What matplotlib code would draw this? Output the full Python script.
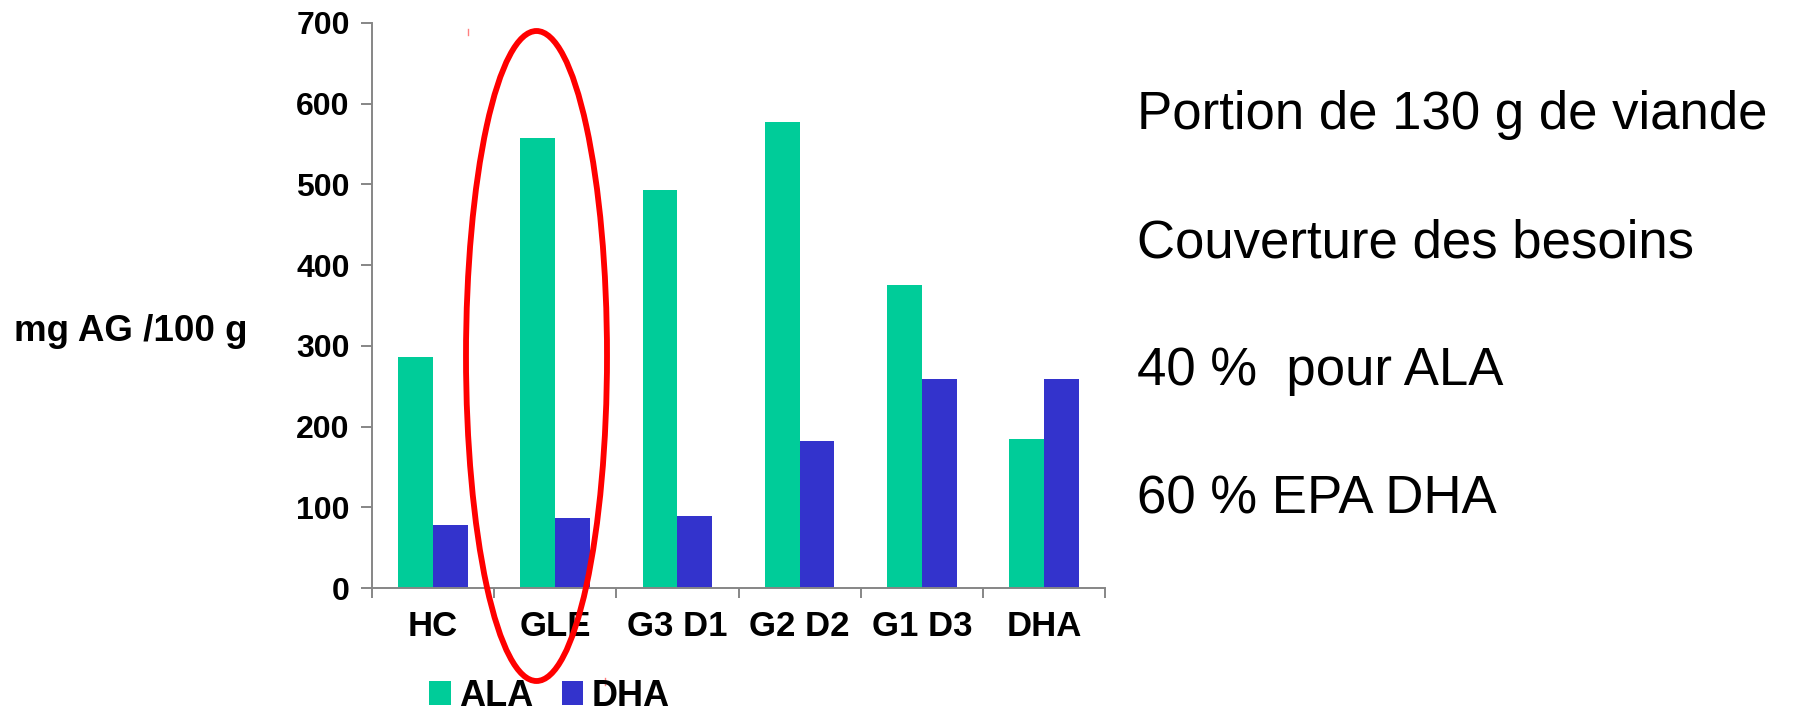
import matplotlib
matplotlib.use("Agg")
import matplotlib.pyplot as plt
import numpy as np
from matplotlib.patches import Ellipse, Patch
from matplotlib.lines import Line2D

# values (mg AG / 100 g)
categories = ["HC", "GLE", "G3 D1", "G2 D2", "G1 D3", "DHA"]
ala = [286, 558, 493, 577, 376, 184]
dha = [78, 87, 89, 182, 259, 259]
yticks = [0, 100, 200, 300, 400, 500, 600, 700]
notes = [
    "Portion de 130 g de viande",
    "Couverture des besoins",
    "40 %  pour ALA",
    "60 % EPA DHA",
]

GREEN = "#00CC99"
BLUE = "#3333CC"
GREY = "#868686"

plt.rcParams["font.family"] = ["Liberation Sans", "DejaVu Sans"]

W, H = 1795, 712
fig = plt.figure(figsize=(W / 100, H / 100), dpi=100)
ax = fig.add_axes([372 / W, 1 - 588 / H, (1105 - 372) / W, (588 - 23) / H])

x = np.arange(len(categories))
bw = 0.285
ax.bar(x - bw / 2, ala, bw, color=GREEN, label="ALA")
ax.bar(x + bw / 2, dha, bw, color=BLUE, label="DHA")

ax.set_xlim(-0.5, len(categories) - 0.5)
ax.set_ylim(0, 700)
ax.set_yticks(yticks)
ax.set_xticks(x)
ax.set_xticklabels(categories)
ax.set_xticks(np.arange(len(categories) + 1) - 0.5, minor=True)

for s in ["top", "right"]:
    ax.spines[s].set_visible(False)
for s in ["left", "bottom"]:
    ax.spines[s].set_color(GREY)
    ax.spines[s].set_linewidth(1.4)

ax.tick_params(axis="y", length=8, width=1.4, color=GREY, pad=8,
               labelsize=23)
ax.tick_params(axis="x", which="major", length=0, pad=16, labelsize=25)
ax.tick_params(axis="x", which="minor", length=7, width=1.4, color=GREY)
for lab in ax.get_xticklabels() + ax.get_yticklabels():
    lab.set_fontweight("bold")

fig.text(14 / W, 1 - 341 / H, "mg AG /100 g", fontsize=26.5,
         fontweight="bold", ha="left", va="baseline")

# notes on the right
for i, t in enumerate(notes):
    fig.text(1137 / W, 1 - (129 + i * 128) / H, t, fontsize=38,
             ha="left", va="baseline")

handles = [Patch(facecolor=GREEN, label="ALA"), Patch(facecolor=BLUE, label="DHA")]
leg = fig.legend(handles=handles, loc="lower left",
                 bbox_to_anchor=(429 / W, -2 / H), ncol=2, frameon=False,
                 prop={"size": 26, "weight": "bold"},
                 handlelength=0.6, handleheight=0.65, handletextpad=0.22,
                 columnspacing=0.8, borderpad=0, borderaxespad=0)

# red highlight around GLE
fig.add_artist(Ellipse((536.5 / W, 1 - 356 / H), 141 / W, 650 / H,
                       transform=fig.transFigure, fill=False,
                       edgecolor="#FF0000", linewidth=4.2))
# stray red marks in the original
fig.add_artist(Line2D([468 / W, 468 / W], [1 - 29 / H, 1 - 35 / H],
                      transform=fig.transFigure, color="#FF8080", linewidth=1))
fig.add_artist(Line2D([605 / W, 605 / W], [1 - 678 / H, 1 - 685 / H],
                      transform=fig.transFigure, color="#FF8080", linewidth=1))

fig.savefig("out.png", dpi=100)
